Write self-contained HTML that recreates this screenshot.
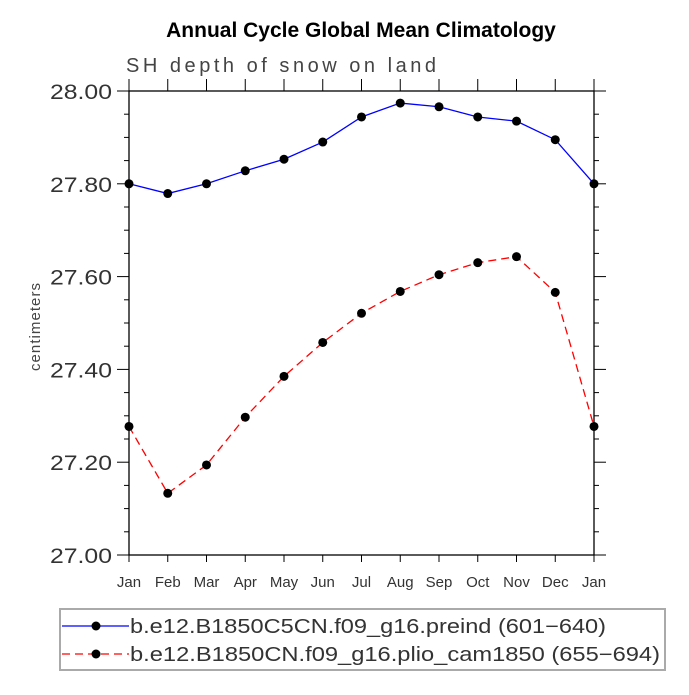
<!DOCTYPE html>
<html><head><meta charset="utf-8"><style>
body{margin:0;background:#fff}
svg text{font-family:"Liberation Sans",sans-serif}
</style></head><body>
<svg id="c" width="689" height="690" xmlns="http://www.w3.org/2000/svg">
<text x="361" y="37" text-anchor="middle" font-size="21" font-weight="bold">Annual Cycle Global Mean Climatology</text>
<text x="126" y="72" font-size="20" fill="#444" textLength="310" lengthAdjust="spacing">SH depth of snow on land</text>
<text transform="translate(40,327) rotate(-90)" text-anchor="middle" font-size="15" fill="#444" textLength="88">centimeters</text>
<g id="axes"></g><g id="series"></g>
<rect x="60" y="609" width="605" height="61" fill="none" stroke="#aaa" stroke-width="2"/>
<g>
<line x1="62" y1="626" x2="129" y2="626" stroke="#00f" stroke-width="1.3"/>
<circle cx="96" cy="626" r="4.5"/>
<text x="130" y="633" font-size="20" fill="#333" textLength="476" lengthAdjust="spacingAndGlyphs">b.e12.B1850C5CN.f09_g16.preind (601−640)</text></g>
<g>
<line x1="62" y1="654" x2="129" y2="654" stroke="#f00" stroke-width="1.3" stroke-dasharray="8,5"/>
<circle cx="96" cy="654" r="4.5"/>
<text x="130" y="661" font-size="20" fill="#333" textLength="530" lengthAdjust="spacingAndGlyphs">b.e12.B1850CN.f09_g16.plio_cam1850 (655−694)</text></g>
</svg>
<script>
const months=["Jan","Feb","Mar","Apr","May","Jun","Jul","Aug","Sep","Oct","Nov","Dec","Jan"];
const preind=[27.80,27.779,27.80,27.828,27.853,27.89,27.944,27.974,27.966,27.944,27.935,27.895,27.80];
const plio=[27.277,27.133,27.194,27.297,27.385,27.458,27.521,27.568,27.604,27.630,27.643,27.566,27.277];
const yTicks=["27.00","27.20","27.40","27.60","27.80","28.00"];
const L=129,R=594,T=91,B=555,ymin=27,ymax=28;
const xs=i=>L+(R-L)*i/(months.length-1);
const ys=v=>B-(B-T)*(v-ymin)/(ymax-ymin);
const NS="http://www.w3.org/2000/svg";
function mk(tag,attrs,parent){const e=document.createElementNS(NS,tag);for(const k in attrs)e.setAttribute(k,attrs[k]);parent.appendChild(e);return e;}
const ax=document.getElementById('axes');
const frame=mk('rect',{x:L,y:T,width:R-L,height:B-T,fill:'none',stroke:'#000','stroke-width':1.3},ax);


for(let i=0;i<months.length;i++){
  const x=xs(i);
  mk('line',{x1:x,y1:B,x2:x,y2:B+7,stroke:'#000'},ax);
  mk('line',{x1:x,y1:T,x2:x,y2:T-12,stroke:'#000'},ax);
  const t=mk('text',{x:x,y:B+32,'text-anchor':'middle','font-size':15,fill:'#333'},ax);
  t.textContent=months[i];
  
  
}
for(let k=0;k<=20;k++){
  const v=ymin+k*0.05,y=ys(v),maj=k%4===0;
  mk('line',{x1:L-(maj?12:5),y1:y,x2:L,y2:y,stroke:'#000'},ax);
  mk('line',{x1:R,y1:y,x2:R+(maj?12:5),y2:y,stroke:'#000'},ax);
}
yTicks.forEach(s=>{
  const t=mk('text',{x:112,y:ys(parseFloat(s))+8,'text-anchor':'end','font-size':21,fill:'#333',textLength:62,lengthAdjust:'spacingAndGlyphs'},ax);
  t.textContent=s;
  
  
});
const sg=document.getElementById('series');
function series(vals,color,dash,name){
  const g=mk('g',{},sg);
  
  
  const pts=vals.map((v,i)=>xs(i)+','+ys(v)).join(' ');
  const a={points:pts,fill:'none',stroke:color,'stroke-width':1.3};
  if(dash)a['stroke-dasharray']=dash;
  mk('polyline',a,g);
  vals.forEach((v,i)=>{
    const c=mk('circle',{cx:xs(i),cy:ys(v),r:4.5},g);
    
    
  });
}
series(preind,'#00f',null,'series-preind');
series(plio,'#f00','8,5','series-plio');
</script>
</body></html>
